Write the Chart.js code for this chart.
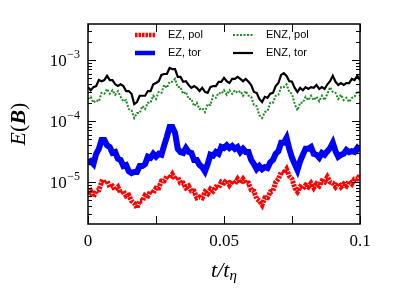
<!DOCTYPE html>
<html>
<head>
<meta charset="utf-8">
<script src="https://cdn.jsdelivr.net/npm/chart.js@4.4.0/dist/chart.umd.min.js"></script>
<style>
  html, body { margin: 0; padding: 0; background: #fff; }
  #wrap { width: 399px; height: 299px; }
</style>
</head>
<body>
<div id="wrap"><canvas id="chart" width="399" height="299"></canvas></div>
<script>
const T_STEP = 0.001;

const ezPol = [
    6.4e-6, 7.1e-6, 5.7e-6, 7.1e-6, 7.4e-6, 1.0e-5, 9.6e-6, 1.04e-5, 8.3e-6, 8.6e-6,
    7.4e-6, 8.3e-6, 6.6e-6, 7.1e-6, 5.9e-6, 6.1e-6, 4.9e-6, 4.5e-6, 3.75e-6, 4.9e-6,
    4.9e-6, 6.1e-6, 5.9e-6, 7.1e-6, 6.6e-6, 8.0e-6, 8.0e-6, 1.04e-5, 1.04e-5, 1.25e-5,
    1.16e-5, 1.35e-5, 1.12e-5, 1.21e-5, 9.6e-6, 9.6e-6, 8.0e-6, 8.6e-6, 7.1e-6, 7.1e-6,
    5.5e-6, 5.7e-6, 5.5e-6, 6.9e-6, 6.4e-6, 7.7e-6, 7.1e-6, 8.3e-6, 8.0e-6, 1.0e-5,
    9.6e-6, 1.08e-5, 8.9e-6, 1.04e-5, 9.3e-6, 1.12e-5, 9.6e-6, 1.12e-5, 9.6e-6, 9.6e-6,
    7.4e-6, 7.1e-6, 5.3e-6, 4.9e-6, 4.2e-6, 5.5e-6, 5.5e-6, 6.9e-6, 7.1e-6, 1.0e-5,
    1.12e-5, 1.46e-5, 1.4e-5, 1.63e-5, 1.25e-5, 1.12e-5, 8.0e-6, 6.9e-6, 8.3e-6, 7.7e-6,
    8.9e-6, 8.3e-6, 9.6e-6, 8.0e-6, 9.3e-6, 8.6e-6, 1.04e-5, 1.0e-5, 1.21e-5, 1.0e-5,
    9.6e-6, 8.3e-6, 9.6e-6, 8.3e-6, 9.3e-6, 8.6e-6, 1.04e-5, 9.3e-6, 1.12e-5, 1.12e-5,
    1.3e-5
];

const ezTor = [
    2.05e-5, 2.2e-5, 1.97e-5, 2.9e-5, 3.5e-5, 4.9e-5, 4.9e-5, 4.0e-5, 3.75e-5, 3.0e-5,
    3.1e-5, 2.4e-5, 2.3e-5, 1.83e-5, 1.9e-5, 1.5e-5, 1.4e-5, 1.46e-5, 1.46e-5, 1.83e-5,
    1.83e-5, 1.97e-5, 2.6e-5, 2.5e-5, 2.9e-5, 2.6e-5, 2.9e-5, 2.8e-5, 4.0e-5, 5.5e-5,
    8.0e-5, 8.0e-5, 6.4e-5, 3.5e-5, 3.1e-5, 3.0e-5, 3.6e-5, 3.1e-5, 3.0e-5, 2.3e-5,
    2.3e-5, 1.9e-5, 1.76e-5, 1.5e-5, 1.97e-5, 2.8e-5, 2.7e-5, 3.1e-5, 2.9e-5, 3.75e-5,
    3.6e-5, 4.0e-5, 3.6e-5, 3.9e-5, 3.5e-5, 3.75e-5, 3.1e-5, 3.5e-5, 3.1e-5, 3.1e-5,
    2.3e-5, 1.97e-5, 1.63e-5, 1.83e-5, 1.63e-5, 1.76e-5, 1.7e-5, 2.1e-5, 2.3e-5, 2.9e-5,
    3.2e-5, 4.4e-5, 4.4e-5, 5.3e-5, 3.5e-5, 2.5e-5, 1.97e-5, 1.57e-5, 2.2e-5, 2.8e-5,
    3.5e-5, 3.5e-5, 3.75e-5, 2.9e-5, 2.8e-5, 2.5e-5, 3.0e-5, 2.8e-5, 3.2e-5, 3.6e-5,
    4.4e-5, 3.2e-5, 2.6e-5, 2.8e-5, 2.9e-5, 3.35e-5, 3.1e-5, 3.2e-5, 3.1e-5, 3.6e-5,
    3.2e-5
];

const enzPol = [
    2.3e-4, 2.5e-4, 2.0e-4, 2.2e-4, 2.1e-4, 2.9e-4, 2.8e-4, 3.35e-4, 2.8e-4, 3.2e-4,
    2.7e-4, 3.1e-4, 2.5e-4, 2.1e-4, 2.2e-4, 1.57e-4, 1.5e-4, 1.12e-4, 1.35e-4, 1.35e-4,
    1.76e-4, 1.57e-4, 2.0e-4, 2.0e-4, 2.6e-4, 2.3e-4, 3.0e-4, 2.9e-4, 3.9e-4, 3.5e-4,
    4.4e-4, 4.4e-4, 4.9e-4, 3.6e-4, 3.6e-4, 2.8e-4, 3.0e-4, 2.3e-4, 2.3e-4, 1.76e-4,
    2.0e-4, 1.57e-4, 1.63e-4, 1.4e-4, 1.9e-4, 1.83e-4, 2.6e-4, 2.4e-4, 2.9e-4, 2.8e-4,
    3.2e-4, 2.7e-4, 3.2e-4, 2.8e-4, 3.2e-4, 2.9e-4, 3.1e-4, 2.6e-4, 3.1e-4, 2.6e-4,
    2.5e-4, 1.83e-4, 1.76e-4, 1.25e-4, 1.12e-4, 1.4e-4, 1.46e-4, 2.0e-4, 2.0e-4, 2.6e-4,
    2.7e-4, 3.6e-4, 3.6e-4, 4.0e-4, 3.0e-4, 2.8e-4, 1.9e-4, 1.5e-4, 2.0e-4, 2.0e-4,
    2.5e-4, 2.2e-4, 2.6e-4, 2.2e-4, 2.5e-4, 2.1e-4, 2.6e-4, 2.2e-4, 2.8e-4, 3.6e-4,
    3.0e-4, 2.9e-4, 2.3e-4, 2.7e-4, 2.2e-4, 2.4e-4, 2.05e-4, 2.4e-4, 2.5e-4, 3.1e-4,
    2.6e-4
];

const enzTor = [
    3.6e-4, 3.2e-4, 3.6e-4, 3.75e-4, 4.7e-4, 4.5e-4, 4.7e-4, 5.5e-4, 4.7e-4, 4.7e-4,
    4.0e-4, 3.75e-4, 4.0e-4, 3.75e-4, 3.1e-4, 3.1e-4, 2.8e-4, 1.9e-4, 2.05e-4, 2.6e-4,
    2.6e-4, 2.6e-4, 3.1e-4, 3.1e-4, 4.0e-4, 4.2e-4, 4.5e-4, 5.7e-4, 5.9e-4, 5.9e-4,
    7.4e-4, 7.1e-4, 7.1e-4, 5.3e-4, 5.3e-4, 4.4e-4, 4.5e-4, 3.9e-4, 3.5e-4, 3.75e-4,
    3.5e-4, 3.1e-4, 3.5e-4, 3.0e-4, 2.9e-4, 3.6e-4, 3.75e-4, 3.75e-4, 4.4e-4, 4.4e-4,
    5.1e-4, 4.5e-4, 4.2e-4, 4.9e-4, 4.9e-4, 5.3e-4, 4.9e-4, 4.5e-4, 4.9e-4, 4.4e-4,
    3.9e-4, 3.0e-4, 2.9e-4, 2.3e-4, 2.05e-4, 2.5e-4, 2.4e-4, 2.8e-4, 2.9e-4, 3.75e-4,
    4.2e-4, 5.7e-4, 6.1e-4, 5.5e-4, 4.5e-4, 4.4e-4, 3.5e-4, 3.0e-4, 3.5e-4, 3.2e-4,
    3.6e-4, 3.35e-4, 3.6e-4, 3.5e-4, 3.9e-4, 3.35e-4, 3.6e-4, 3.35e-4, 4.0e-4, 4.5e-4,
    5.5e-4, 4.4e-4, 3.9e-4, 4.2e-4, 3.9e-4, 4.2e-4, 4.2e-4, 4.9e-4, 4.7e-4, 5.5e-4,
    4.7e-4
];

const seriesLabels = ['EZ, pol', 'EZ, tor', 'ENZ, pol', 'ENZ, tor'];

const xTickValues = [0, 0.025, 0.05, 0.075, 0.1];
const xTickLabels = ['0', '', '0.05', '', '0.1'];
const yTickValues = [1e-5, 1e-4, 1e-3];
const yTickExponents = ['−5', '−4', '−3'];

const times = ezPol.map((_, i) => i * T_STEP);
const toPoints = (vals) => vals.map((v, i) => ({ x: times[i], y: v }));

const serif = "'Liberation Serif', 'DejaVu Serif', serif";

// matplotlib-style inward ticks, frame, mathtext-like labels and the legend
const frameAndLegend = {
    id: 'frameAndLegend',
    afterDraw(chart) {
        const { ctx, chartArea: a, scales } = chart;
        const x = scales.x;
        const y = scales.y;
        ctx.save();
        ctx.strokeStyle = '#000';
        ctx.lineWidth = 1;
        const seg = (x1, y1, x2, y2) => {
            ctx.beginPath();
            ctx.moveTo(x1, y1);
            ctx.lineTo(x2, y2);
            ctx.stroke();
        };
        x.ticks.forEach((t) => {
            const px = Math.round(x.getPixelForValue(t.value)) + 0.5;
            seg(px, a.bottom, px, a.bottom - 8);
            seg(px, a.top, px, a.top + 8);
        });
        for (let e = -6; e <= -2; e++) {
            for (let m = 1; m < 10; m++) {
                const v = m * Math.pow(10, e);
                if (v < y.min || v > y.max) continue;
                const py = Math.round(y.getPixelForValue(v)) + 0.5;
                const len = m === 1 ? 8 : 4;
                seg(a.left, py, a.left + len, py);
                seg(a.right, py, a.right - len, py);
            }
        }
        ctx.lineWidth = 1.5;
        ctx.strokeRect(a.left, a.top, a.right - a.left, a.bottom - a.top);

        ctx.fillStyle = '#000';
        ctx.textBaseline = 'alphabetic';

        // y tick labels: 10 with raised exponent
        yTickValues.forEach((v, i) => {
            const py = y.getPixelForValue(v);
            ctx.font = '12px ' + serif;
            const ew = ctx.measureText(yTickExponents[i]).width;
            const right = a.left - 8;
            ctx.textAlign = 'right';
            ctx.fillText(yTickExponents[i], right, py - 2);
            ctx.font = '17px ' + serif;
            ctx.fillText('10', right - ew - 0.5, py + 5.5);
        });

        // x axis title t/t_eta
        ctx.textAlign = 'left';
        ctx.font = 'italic 22px ' + serif;
        const w1 = ctx.measureText('t/t').width;
        ctx.font = 'italic 15px ' + serif;
        const w2 = ctx.measureText('η').width;
        const cx = (a.left + a.right) / 2;
        let sx = cx - (w1 + w2) / 2;
        ctx.font = 'italic 22px ' + serif;
        ctx.fillText('t/t', sx, 277);
        ctx.font = 'italic 15px ' + serif;
        ctx.fillText('η', sx + w1, 280);

        // y axis title E(B), rotated
        const parts = [
            ['E', 'italic 22px ' + serif],
            ['(', '22px ' + serif],
            ['B', 'italic bold 22px ' + serif],
            [')', '22px ' + serif],
        ];
        let total = 0;
        parts.forEach(([t, f]) => {
            ctx.font = f;
            total += ctx.measureText(t).width;
        });
        ctx.save();
        ctx.translate(25, (a.top + a.bottom) / 2);
        ctx.rotate(-Math.PI / 2);
        let tx = -total / 2;
        parts.forEach(([t, f]) => {
            ctx.font = f;
            ctx.fillText(t, tx, 0);
            tx += ctx.measureText(t).width;
        });
        ctx.restore();

        // legend, two columns inside the top of the axes
        ctx.font = "11px 'Liberation Sans', Arial, sans-serif";
        ctx.textBaseline = 'middle';
        ctx.textAlign = 'left';
        const slots = [
            { dx: 47, dy: 11 }, { dx: 47, dy: 29 },
            { dx: 145, dy: 11 }, { dx: 145, dy: 29 },
        ];
        chart.data.datasets.forEach((ds, i) => {
            const s = slots[i];
            const lx = a.left + s.dx;
            const ly = a.top + s.dy;
            ctx.save();
            ctx.strokeStyle = ds.borderColor;
            ctx.lineWidth = Math.min(ds.borderWidth, 4.5);
            ctx.setLineDash(ds.borderDash || []);
            seg(lx, ly, lx + 20, ly);
            ctx.restore();
            ctx.fillText(ds.label, lx + 33, ly);
        });
        ctx.restore();
    },
};

new Chart(document.getElementById('chart').getContext('2d'), {
    type: 'line',
    data: {
        datasets: [
            {
                label: seriesLabels[0],
                data: toPoints(ezPol),
                borderColor: '#ff0000',
                borderWidth: 5,
                borderDash: [2.5, 1],
            },
            {
                label: seriesLabels[1],
                data: toPoints(ezTor),
                borderColor: '#0000ff',
                borderWidth: 6,
            },
            {
                label: seriesLabels[2],
                data: toPoints(enzPol),
                borderColor: '#1f8c1f',
                borderWidth: 2,
                borderDash: [2, 1.5],
            },
            {
                label: seriesLabels[3],
                data: toPoints(enzTor),
                borderColor: '#000000',
                borderWidth: 2.2,
            },
        ],
    },
    options: {
        responsive: false,
        animation: false,
        devicePixelRatio: 1,
        layout: {
            padding: { top: 24, right: 39, left: 0, bottom: 0 },
        },
        elements: {
            point: { radius: 0 },
            line: { tension: 0, fill: false },
        },
        scales: {
            x: {
                type: 'linear',
                min: 0,
                max: 0.1,
                afterBuildTicks(scale) {
                    scale.ticks = xTickValues.map((v) => ({ value: v }));
                },
                afterFit(scale) {
                    scale.height = 75;
                },
                grid: { display: false, drawTicks: false },
                border: { display: false },
                ticks: {
                    autoSkip: false,
                    maxRotation: 0,
                    padding: 7,
                    color: '#000',
                    font: { family: serif, size: 17 },
                    callback(value, index) {
                        return xTickLabels[index];
                    },
                },
            },
            y: {
                type: 'logarithmic',
                min: 2.05e-6,
                max: 3.9e-3,
                afterBuildTicks(scale) {
                    scale.ticks = yTickValues.map((v) => ({ value: v, major: true }));
                },
                afterFit(scale) {
                    scale.width = 88;
                },
                grid: { display: false, drawTicks: false },
                border: { display: false },
                ticks: { display: false },
            },
        },
        plugins: {
            legend: { display: false },
            tooltip: { enabled: false },
        },
    },
    plugins: [frameAndLegend],
});
</script>
</body>
</html>
